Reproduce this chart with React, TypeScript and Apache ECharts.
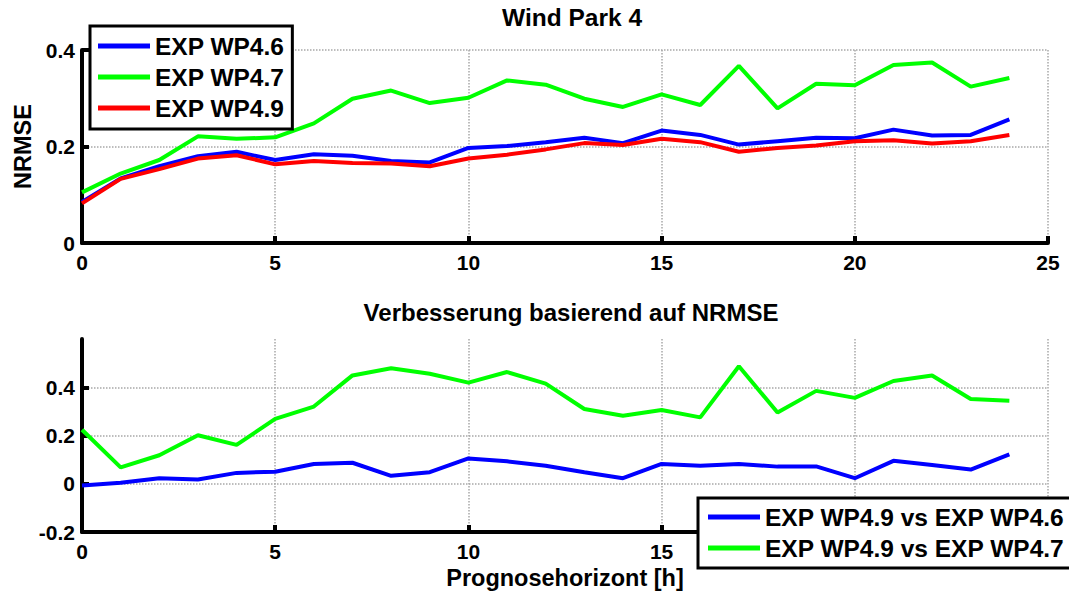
import React, { useEffect, useRef } from "react";
import * as echarts from "echarts";

const hours = [0, 1, 2, 3, 4, 5, 6, 7, 8, 9, 10, 11, 12, 13, 14, 15, 16, 17, 18, 19, 20, 21, 22, 23, 24];

const wp46 = [0.085, 0.134, 0.159, 0.180, 0.189, 0.172, 0.184, 0.181, 0.170, 0.167, 0.197, 0.201, 0.209, 0.218, 0.207, 0.233, 0.224, 0.204, 0.211, 0.218, 0.217, 0.235, 0.223, 0.224, 0.256];
const wp47 = [0.105, 0.144, 0.172, 0.221, 0.216, 0.219, 0.248, 0.299, 0.316, 0.290, 0.301, 0.337, 0.328, 0.299, 0.282, 0.308, 0.286, 0.367, 0.279, 0.330, 0.327, 0.369, 0.374, 0.324, 0.342];
const wp49 = [0.082, 0.133, 0.153, 0.175, 0.182, 0.163, 0.170, 0.166, 0.165, 0.159, 0.175, 0.183, 0.194, 0.207, 0.203, 0.216, 0.209, 0.189, 0.197, 0.202, 0.211, 0.213, 0.206, 0.211, 0.224];

const imp46 = [-0.007, 0.004, 0.023, 0.018, 0.045, 0.050, 0.082, 0.087, 0.033, 0.048, 0.105, 0.093, 0.075, 0.048, 0.023, 0.082, 0.075, 0.082, 0.071, 0.072, 0.023, 0.095, 0.078, 0.059, 0.122];
const imp47 = [0.224, 0.068, 0.118, 0.201, 0.161, 0.269, 0.320, 0.449, 0.479, 0.456, 0.419, 0.463, 0.415, 0.310, 0.282, 0.306, 0.275, 0.487, 0.295, 0.385, 0.356, 0.426, 0.449, 0.351, 0.344];

const topNames = ["EXP WP4.6", "EXP WP4.7", "EXP WP4.9"];
const bottomNames = ["EXP WP4.9 vs EXP WP4.6", "EXP WP4.9 vs EXP WP4.7"];
const titles = ["Wind Park 4", "Verbesserung basierend auf NRMSE"];
const xAxisTitle = "Prognosehorizont [h]";
const yAxisTitle = "NRMSE";

const FONT = "Liberation Sans";
const BLUE = "#0000ff";
const GREEN = "#00ff00";
const RED = "#ff0000";

const pairs = (vals: number[]) => hours.map((h, i) => [h, vals[i]]);

export default function App() {
  const ref = useRef<HTMLDivElement>(null);
  useEffect(() => {
    if (!ref.current) return;
    const chart = echarts.init(ref.current, undefined, { renderer: "svg" });
    const gridColor = "#a8a8a8";
    const labelStyle = { fontFamily: FONT, fontWeight: "bold" as const, fontSize: 21, color: "#000" };
    const axisLine = { show: true, onZero: false, lineStyle: { color: "#000", width: 4 } };
    const axisTick = { show: true, inside: true, length: 7, lineStyle: { color: "#000", width: 4 } };
    const xAxisBase = {
      type: "value" as const,
      min: 0,
      max: 25,
      interval: 5,
      axisLine,
      axisTick,
      axisLabel: { ...labelStyle, margin: 9 },
      splitLine: { show: true, lineStyle: { color: gridColor, width: 1.5, type: "dotted" as const } },
    };
    const lineSeries = (name: string, data: number[], color: string, idx: number) => ({
      name,
      type: "line" as const,
      xAxisIndex: idx,
      yAxisIndex: idx,
      data: pairs(data),
      symbol: "none",
      showSymbol: false,
      lineStyle: { color, width: 4 },
      itemStyle: { color },
      z: 3,
    });
    const legendBase = {
      orient: "vertical" as const,
      borderColor: "#000",
      borderWidth: 3,
      backgroundColor: "#fff",
      icon: "rect",
      itemWidth: 52,
      itemHeight: 5,
      itemGap: 3,
      selectedMode: false,
    };
    const legendText = (size: number) => ({
      fontFamily: FONT,
      fontWeight: "bold" as const,
      fontSize: size,
      color: "#000",
      lineHeight: 28,
    });
    chart.setOption({
      animation: false,
      backgroundColor: "#fff",
      title: [
        {
          text: titles[0],
          left: 567,
          top: 0,
          textAlign: "center",
          textStyle: { fontFamily: FONT, fontWeight: "bold", fontSize: 24.5, color: "#000" },
        },
        {
          text: titles[1],
          left: 566,
          top: 295,
          textAlign: "center",
          textStyle: { fontFamily: FONT, fontWeight: "bold", fontSize: 24, color: "#000" },
        },
      ],
      grid: [
        { left: 82, right: 21, top: 50, height: 193 },
        { left: 82, right: 21, top: 339, height: 193 },
      ],
      xAxis: [
        { ...xAxisBase, gridIndex: 0 },
        {
          ...xAxisBase,
          gridIndex: 1,
          axisLabel: {
            ...labelStyle,
            margin: 9,
            formatter: (v: number) => (v >= 20 ? "" : String(v)),
          },
          name: xAxisTitle,
          nameLocation: "middle",
          nameGap: 34,
          nameTextStyle: { fontFamily: FONT, fontWeight: "bold", fontSize: 23.5, color: "#000" },
        },
      ],
      yAxis: [
        {
          type: "value",
          gridIndex: 0,
          min: 0,
          max: 0.4,
          interval: 0.2,
          axisLine,
          axisTick,
          axisLabel: { ...labelStyle, margin: 7 },
          splitLine: { show: true, lineStyle: { color: gridColor, width: 1.5, type: "dotted" } },
          name: yAxisTitle,
          nameLocation: "middle",
          nameGap: 47,
          nameTextStyle: { fontFamily: FONT, fontWeight: "bold", fontSize: 23.5, color: "#000" },
        },
        {
          type: "value",
          gridIndex: 1,
          min: -0.2,
          max: 0.6,
          interval: 0.2,
          axisLine,
          axisTick,
          axisLabel: {
            ...labelStyle,
            margin: 7,
            showMaxLabel: false,
            formatter: (v: number) => (v > 0.5 ? "" : String(Math.round(v * 10) / 10)),
          },
          splitLine: {
            show: true,
            lineStyle: {
              color: [gridColor, gridColor, gridColor, gridColor, "rgba(0,0,0,0)"],
              width: 1.5,
              type: "dotted",
            },
          },
        },
      ],
      legend: [
        {
          ...legendBase,
          data: topNames,
          left: 90,
          top: 26,
          padding: [6, 8, 7, 8],
          textStyle: legendText(24.5),
        },
        {
          ...legendBase,
          data: bottomNames,
          left: 698,
          top: 498,
          padding: [5, 6, 6, 10],
          textStyle: legendText(24.5),
        },
      ],
      series: [
        lineSeries(topNames[0], wp46, BLUE, 0),
        lineSeries(topNames[1], wp47, GREEN, 0),
        lineSeries(topNames[2], wp49, RED, 0),
        lineSeries(bottomNames[0], imp46, BLUE, 1),
        lineSeries(bottomNames[1], imp47, GREEN, 1),
      ],
    });
    return () => chart.dispose();
  }, []);
  return (
    <div
      ref={ref}
      style={{ position: "fixed", left: 0, top: 0, width: 1069, height: 594, background: "#fff" }}
    />
  );
}
